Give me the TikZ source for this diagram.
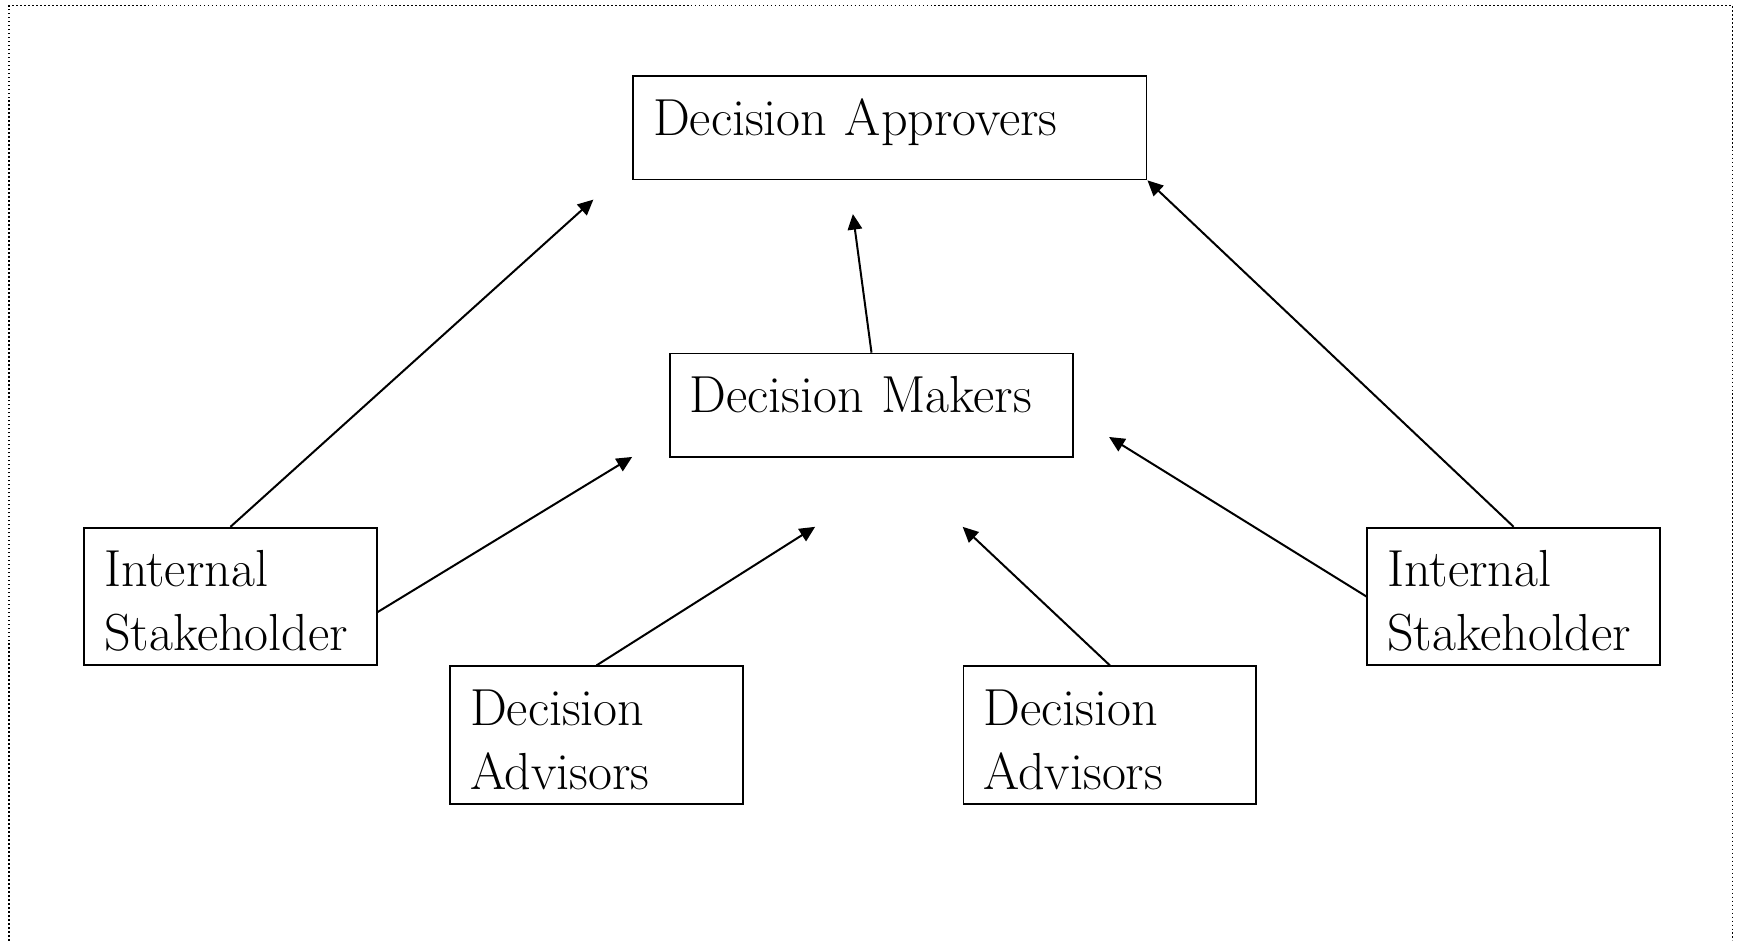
\documentclass[tikz,border=0pt]{standalone}
\usetikzlibrary{arrows.meta}
\newcommand\boxfont{\fontsize{23.5}{29}\selectfont\spaceskip=10.5pt plus 2pt minus 2pt\relax}
\begin{document}
\begin{tikzpicture}[x=0.5pt,y=-0.5pt,
  box/.style={draw, line width=0.8pt, rectangle, anchor=north west, inner xsep=9pt, inner ysep=0pt,
    align=left, font=\boxfont},
  onebox/.style={box, minimum height=46.5pt, text height=16pt, text depth=9pt},
  twobox/.style={box, minimum width=132pt, text width=114pt, minimum height=62pt},
  conn/.style={line width=0.9pt, -{Triangle[length=7pt,width=6.5pt]}},
  frame/.style={line width=0.7pt, dash pattern=on 0.7pt off 1.1pt}
]
\useasboundingbox (0,0) rectangle (1568,848);
\draw[frame] (8,848) -- (8,5) -- (1562,5) -- (1562,848);

\node[onebox, minimum width=231.5pt, text width=213.5pt] (appr) at (570,68) {Decision Approvers};
\node[onebox, minimum width=182pt, text width=164pt] (mak) at (603,318) {Decision Makers};
\node[twobox] (isL) at (75,475) {\rule{0pt}{20.5pt}Internal\\Stakeholder};
\node[twobox] (daL) at (405,600) {\rule{0pt}{20.5pt}Decision\\Advisors};
\node[twobox] (daR) at (868,600) {\rule{0pt}{20.5pt}Decision\\Advisors};
\node[twobox] (isR) at (1232,475) {\rule{0pt}{20.5pt}Internal\\Stakeholder};

\coordinate (t1) at (535,180);
\coordinate (t2) at (570,412);
\coordinate (t3) at (735,475);
\coordinate (t4) at (868,475);
\coordinate (t5) at (1000,394);
\coordinate (t7) at (769,193);

\draw[conn] (isL.north) -- (t1);
\draw[conn] ([yshift=-7pt]isL.east) -- (t2);
\draw[conn] (daL.north) -- (t3);
\draw[conn] (daR.north) -- (t4);
\draw[conn] (isR.west) -- (t5);
\draw[conn] (isR.north) -- (appr.south east);
\draw[conn] (mak.north) -- (t7);
\end{tikzpicture}
\end{document}
